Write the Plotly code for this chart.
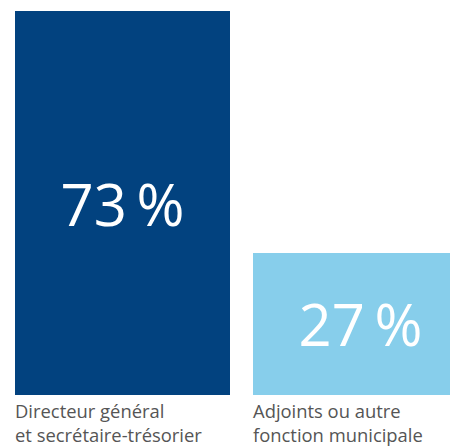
import plotly.graph_objects as go

categories = ["Directeur général<br>et secrétaire-trésorier", "Adjoints ou autre<br>fonction municipale"]
values = [73, 27]
value_labels = ["73\u2009%", "27\u2009%"]
colors = ["#02427F", "#87CEEB"]

# page body has an 8px margin; the figure is sized to fill the rest of the window
W, H = 450, 438
bar_w = 0.9034
pitch = 238.0
xs = list(range(len(values)))

fig = go.Figure()
fig.add_trace(go.Bar(
    x=xs, y=values, width=bar_w,
    marker=dict(color=colors, line=dict(width=0)),
    text=value_labels, textposition="inside", insidetextanchor="middle",
    textangle=0,
    textfont=dict(family="Open Sans", size=58, color="white"),
    hoverinfo="skip",
))

for i, cat in enumerate(categories):
    fig.add_annotation(
        x=i - bar_w / 2, y=0, xref="x", yref="paper",
        xanchor="left", yanchor="top", align="left",
        text=cat, showarrow=False, yshift=-2, xshift=-1, borderpad=0,
        font=dict(family="Open Sans", size=18.4, color="#555555"),
    )

fig.update_layout(
    width=W, height=H,
    margin=dict(l=0, r=0, t=0, b=51, pad=0),
    paper_bgcolor="white", plot_bgcolor="white",
    showlegend=False,
    uniformtext=dict(minsize=8, mode=False),
    xaxis=dict(range=[-114.5 / pitch, -114.5 / pitch + W / pitch], visible=False, fixedrange=True),
    yaxis=dict(range=[0, 73 * 387 / 384], visible=False, fixedrange=True),
)

fig.write_html("out.html", config={"displayModeBar": False})
